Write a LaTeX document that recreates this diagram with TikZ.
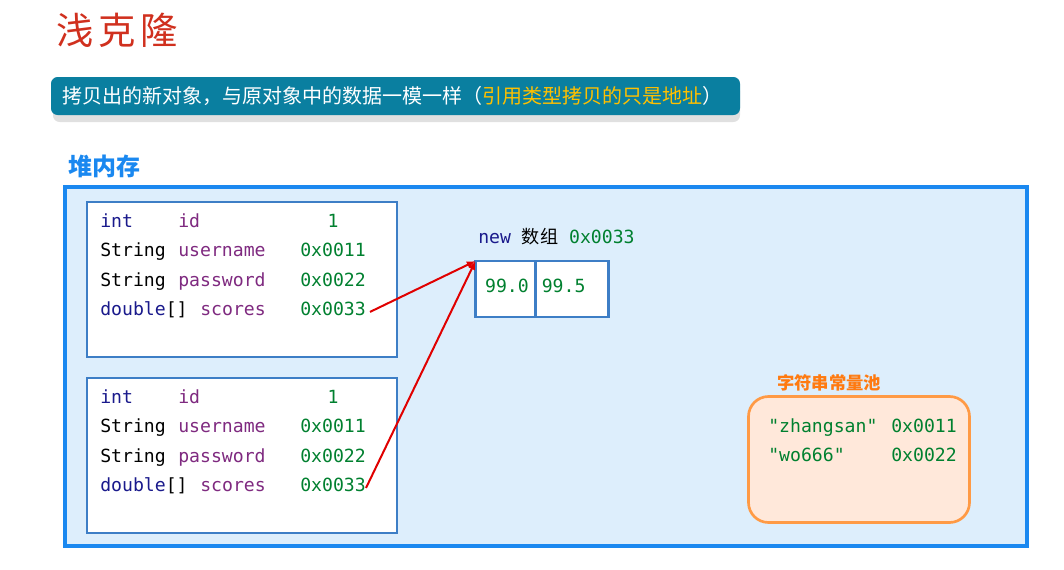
\documentclass[tikz,border=0pt]{standalone}
\usepackage{fontspec}
\setmonofont{DejaVu Sans Mono}
\newfontfamily\cjk{Noto Sans CJK SC}
\usetikzlibrary{arrows.meta, positioning}
\definecolor{titlered}{HTML}{D0301E}
\definecolor{bannerteal}{HTML}{0A7FA0}
\definecolor{banneryel}{HTML}{FFC000}
\definecolor{heapblue}{HTML}{1A88F0}
\definecolor{heapfill}{HTML}{DDEEFC}
\definecolor{boxblue}{HTML}{3D7EC6}
\definecolor{kwnavy}{HTML}{1A1A8C}
\definecolor{fieldpurple}{HTML}{7F2A80}
\definecolor{valgreen}{HTML}{00802F}
\definecolor{poolorange}{HTML}{FF7A10}
\definecolor{poolfill}{HTML}{FFE8DA}
\definecolor{poolline}{HTML}{FF9A45}
\definecolor{ptrred}{HTML}{E00000}

\begin{document}
\begin{tikzpicture}[x=0.75pt, y=-0.75pt,
  code/.style={inner sep=0pt, text height=1.5ex, text depth=0.25ex,
    font=\ttfamily\fontsize{13.6}{16}\selectfont},
  objbox/.style={draw=boxblue, line width=2pt, fill=white, inner sep=0pt,
    minimum width=310*0.75pt, minimum height=155*0.75pt},
  cellbox/.style={draw=boxblue, line width=2pt, fill=white, inner sep=0pt,
    outer sep=0pt, minimum height=56*0.75pt},
  ptr/.style={draw=ptrred, line width=1.5pt, -{Latex[length=6.5pt, width=5.5pt]}}]
  \useasboundingbox (0,0) rectangle (1064,569);

  \node[text=titlered, font=\cjk\fontsize{28}{32}\selectfont] (title) at (117,30)
    {浅\hspace{3.5pt}克\hspace{3.5pt}隆};

  \fill[black!12, rounded corners=5pt] (53,84) rectangle (740,122);
  \node[fill=bannerteal, rounded corners=5pt, minimum width=689*0.75pt,
    minimum height=38*0.75pt] (banner) at (395.5,96) {};
  \node[anchor=west, inner sep=0pt, text=white, font=\cjk\fontsize{15}{18}\selectfont]
    (bannertxt) at (62,96) {拷贝出的新对象，与原对象中的数据一模一样（\textcolor{banneryel}{引用类型拷贝的只是地址}）};

  \node[anchor=west, inner sep=0pt, text=heapblue, font=\cjk\bfseries\fontsize{18}{20}\selectfont]
    (heaplbl) at (68,166) {堆内存};
  \node[draw=heapblue, line width=3pt, fill=heapfill, minimum width=962*0.75pt,
    minimum height=359*0.75pt] (heap) at (546,366) {};

  % two copies of the object
  \foreach \o/\top in {1/202, 2/378} {
    \node[objbox] (obj\o) at (242,{\top+77.5}) {};
    \foreach \tc/\ty/\nm/\nx/\val [count=\r] in {kwnavy/int/id/178/1,
        black/String/username/178/0x0011, black/String/password/178/0x0022,
        kwnavy/{double\textcolor{black}{[]}}/scores/200/0x0033} {
      \node[code, anchor=west, text=\tc] (t\o\r) at (100,{\top+22+29.3*(\r-1)}) {\ty};
      \node[code, anchor=west, text=fieldpurple] (n\o\r) at (\nx,{\top+22+29.3*(\r-1)}) {\nm};
      \node[code, text=valgreen] (v\o\r) at (333,{\top+22+29.3*(\r-1)}) {\val};
    }
  }

  \node[code, anchor=west] (arrlbl) at (478,240)
    {\textcolor{kwnavy}{new} {\cjk 数组} \textcolor{valgreen}{0x0033}};
  \node[cellbox, minimum width=60*0.75pt] (arr1) at (505.5,289) {};
  \node[cellbox, minimum width=73*0.75pt, right=0pt of arr1] (arr2) {};
  \node[code, text=valgreen, right=7pt of arr1.west] (arrv1) {99.0};
  \node[code, text=valgreen, right=4.5pt of arr2.west] (arrv2) {99.5};

  \draw[ptr] ([xshift=3pt]v14.east) -- (arr1.north west);
  \draw[ptr] (v24.east) -- (arr1.north west);

  \node[anchor=west, inner sep=0pt, text=poolorange, font=\cjk\bfseries\fontsize{13}{15}\selectfont]
    (poollbl) at (777,383) {字符串常量池};
  \node[draw=poolline, line width=2pt, fill=poolfill, rounded corners=15pt,
    minimum width=221*0.75pt, minimum height=126*0.75pt] (pool) at (859,459.5) {};
  \node[code, anchor=west, text=valgreen] (s1) at (768,429) {"zhangsan"};
  \node[code, anchor=west, text=valgreen] (a1) at (891,429) {0x0011};
  \node[code, anchor=west, text=valgreen] (s2) at (768,457.5) {"wo666"};
  \node[code, anchor=west, text=valgreen] (a2) at (891,457.5) {0x0022};
\end{tikzpicture}
\end{document}
